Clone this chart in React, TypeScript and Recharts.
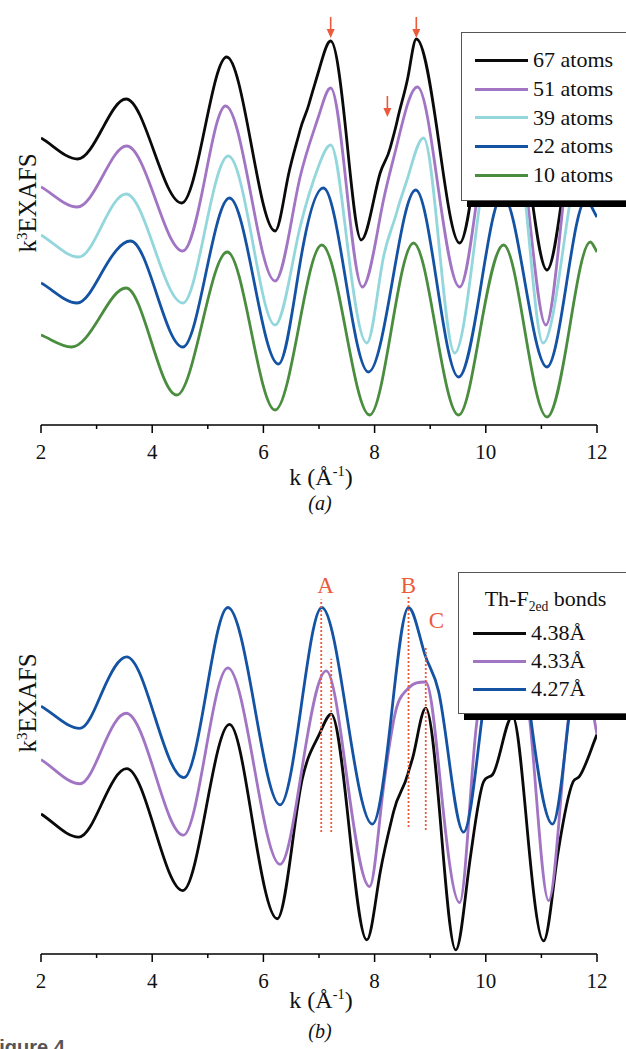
import React from "react"
import { LineChart, Line, XAxis, YAxis, Legend, ReferenceLine, ReferenceDot } from "recharts"

const FONT = '"Liberation Serif", "Times New Roman", serif'
const RED = "#ec5a3c"
const AXIS = { stroke: "#000", strokeWidth: 1.5 }

const K_TICKS = [2, 3, 4, 5, 6, 7, 8, 9, 10, 11, 12]

// (a) cluster size, k values and offset signal (arb. units)
const k67 = [2.0, 2.66, 3.1, 3.53, 4.03, 4.53, 4.94, 5.34, 5.78, 6.21, 6.45, 6.66, 6.82, 7.0, 7.21, 7.5, 7.76, 8.1, 8.28, 8.41, 8.6, 8.75, 9.15, 9.53, 9.9, 10.3, 10.7, 11.1, 11.45, 11.8, 12.0]
const v67 = [287, 266, 296, 326, 274, 222, 295, 368, 281, 194, 250, 295, 321, 355, 384, 285, 185, 252, 277, 305, 348, 386, 285, 182, 290, 360, 280, 155, 260, 340, 320]
const k51 = [2.0, 2.65, 3.1, 3.54, 4.05, 4.55, 4.95, 5.32, 5.77, 6.21, 6.66, 7.0, 7.21, 7.5, 7.78, 8.16, 8.41, 8.77, 9.15, 9.53, 9.9, 10.3, 10.7, 11.08, 11.45, 11.85, 12.0]
const v51 = [238, 218, 248, 279, 227, 174, 247, 319, 232, 144, 248, 310, 337, 235, 138, 225, 282, 338, 235, 138, 250, 330, 250, 100, 250, 320, 300]
const k39 = [2.0, 2.68, 3.1, 3.53, 4.05, 4.55, 4.95, 5.37, 5.8, 6.21, 6.66, 7.0, 7.21, 7.5, 7.86, 8.16, 8.41, 8.6, 8.88, 9.15, 9.44, 9.9, 10.3, 10.7, 11.03, 11.5, 11.85, 12.0]
const v39 = [190, 168, 200, 231, 175, 122, 195, 269, 185, 100, 198, 260, 280, 185, 82, 168, 215, 248, 287, 185, 72, 225, 310, 230, 82, 218, 290, 275]
const k22 = [2.0, 2.65, 3.1, 3.61, 4.08, 4.55, 4.97, 5.39, 5.83, 6.27, 6.66, 7.08, 7.48, 7.89, 8.32, 8.74, 9.12, 9.51, 9.9, 10.3, 10.7, 11.1, 11.45, 11.8, 12.0]
const v22 = [142, 122, 153, 184, 131, 78, 153, 227, 144, 61, 162, 237, 145, 53, 144, 235, 142, 48, 135, 230, 144, 58, 141, 225, 208]
const k10 = [2.0, 2.55, 3.05, 3.53, 3.98, 4.44, 4.9, 5.35, 5.78, 6.21, 6.66, 7.05, 7.48, 7.91, 8.3, 8.7, 9.1, 9.51, 9.9, 10.32, 10.7, 11.1, 11.5, 11.88, 12.0]
const v10 = [90, 78, 107, 137, 84, 30, 102, 173, 94, 15, 105, 180, 95, 10, 95, 182, 96, 10, 95, 180, 95, 8, 95, 183, 173]

// (b) Th-F2ed bond length
const k438 = [2.0, 2.68, 3.1, 3.54, 4.05, 4.55, 4.97, 5.39, 5.8, 6.25, 6.7, 7.03, 7.22, 7.55, 7.86, 8.1, 8.34, 8.6, 8.7, 8.92, 9.2, 9.46, 9.72, 9.96, 10.12, 10.48, 10.75, 11.04, 11.3, 11.57, 11.68, 12.0]
const v438 = [139, 116, 150, 184, 123, 63, 145, 228, 133, 35, 174, 221, 238, 121, 14, 81, 141, 179, 198, 244, 121, 4, 95, 171, 178, 236, 121, 13, 101, 171, 176, 218]
const k433 = [2.0, 2.7, 3.1, 3.53, 4.05, 4.56, 4.96, 5.36, 5.83, 6.3, 6.7, 7.13, 7.5, 7.91, 8.15, 8.34, 8.59, 8.92, 9.2, 9.53, 9.86, 10.45, 10.78, 11.13, 11.5, 11.8, 12.0]
const v433 = [193, 169, 204, 239, 179, 118, 201, 284, 187, 89, 186, 281, 176, 67, 161, 231, 263, 270, 161, 51, 238, 290, 238, 53, 238, 270, 218]
const k427 = [2.0, 2.7, 3.1, 3.54, 4.05, 4.57, 4.97, 5.36, 5.84, 6.3, 6.68, 7.05, 7.5, 7.96, 8.3, 8.61, 8.9, 9.15, 9.6, 9.94, 10.45, 10.8, 11.2, 11.5, 11.9, 12.0]
const v427 = [246, 224, 260, 295, 235, 175, 259, 344, 246, 148, 246, 344, 237, 129, 236, 344, 298, 261, 121, 238, 344, 238, 129, 238, 344, 340]

// markers
const arrowK = [7.21, 8.75, 8.23]
const arrowV = [387, 387, 308]
const dropK = [7.04, 7.22, 8.61, 8.92]
const dropTop = [352, 293, 356, 304]
const dropBottom = [121, 121, 126, 123]
const peakNames = ["A", "B", "C"]
const peakK = [7.12, 8.61, 9.11]
const peakV = [366, 366, 331]

const zip = (ks: number[], vs: number[]) => ks.map((k, i) => ({ k, v: vs[i] }))

const topSeries = [
  { name: "67 atoms", color: "#0a0a0a", data: zip(k67, v67) },
  { name: "51 atoms", color: "#a274c4", data: zip(k51, v51) },
  { name: "39 atoms", color: "#93d7dd", data: zip(k39, v39) },
  { name: "22 atoms", color: "#1452a3", data: zip(k22, v22) },
  { name: "10 atoms", color: "#4b8d3f", data: zip(k10, v10) },
]
const bottomSeries = [
  { name: "4.38Å", color: "#0a0a0a", data: zip(k438, v438) },
  { name: "4.33Å", color: "#a274c4", data: zip(k433, v433) },
  { name: "4.27Å", color: "#1452a3", data: zip(k427, v427) },
]

// smooth Hermite curve: flat at turning points, rounder (sine-like) in between, never overshoots
const smoothCurve = (ctx: any) => {
  let xs: number[] = []
  let ys: number[] = []
  return {
    areaStart() {},
    areaEnd() {},
    lineStart() {
      xs = []
      ys = []
    },
    point(x: number, y: number) {
      xs.push(+x)
      ys.push(+y)
    },
    lineEnd() {
      const n = xs.length
      if (!n) return
      ctx.moveTo(xs[0], ys[0])
      if (n === 1) return
      const h: number[] = []
      const sec: number[] = []
      for (let i = 0; i < n - 1; i++) {
        h[i] = xs[i + 1] - xs[i]
        sec[i] = (ys[i + 1] - ys[i]) / h[i]
      }
      const isTurn = (j: number) => j === 0 || j === n - 1 || sec[j - 1] * sec[j] <= 0
      const m: number[] = new Array(n).fill(0)
      m[0] = sec[0]
      m[n - 1] = sec[n - 2]
      for (let i = 1; i < n - 1; i++) {
        if (sec[i - 1] * sec[i] <= 0) continue
        const avg = (sec[i - 1] * h[i] + sec[i] * h[i - 1]) / (h[i - 1] + h[i])
        m[i] = avg * (isTurn(i - 1) && isTurn(i + 1) ? 1.5 : 1.15)
      }
      for (let i = 0; i < n - 1; i++) {
        if (sec[i] === 0) continue
        const a = m[i] / sec[i]
        const b = m[i + 1] / sec[i]
        const s = a * a + b * b
        if (s > 9) {
          const t = 3 / Math.sqrt(s)
          m[i] = t * a * sec[i]
          m[i + 1] = t * b * sec[i]
        }
      }
      for (let i = 0; i < n - 1; i++) {
        const d = h[i] / 3
        ctx.bezierCurveTo(xs[i] + d, ys[i] + m[i] * d, xs[i + 1] - d, ys[i + 1] - m[i + 1] * d, xs[i + 1], ys[i + 1])
      }
    },
  }
}

const KTick = (props: any) => {
  const { x, y, payload } = props
  const major = payload.value % 2 === 0
  return (
    <g>
      <line x1={x} y1={y} x2={x} y2={y + (major ? 8 : 4)} stroke="#000" strokeWidth={1.5} />
      {major && (
        <text x={x} y={y + 27} textAnchor="middle" dominantBaseline="central" fontFamily={FONT} fontSize={21} fill="#111">
          {payload.value}
        </text>
      )}
    </g>
  )
}

const Arrow = (props: any) => {
  const { cx, cy } = props
  return (
    <g>
      <line x1={cx} y1={cy - 21} x2={cx} y2={cy - 7} stroke={RED} strokeWidth={1.6} />
      <polygon points={`${cx - 4},${cy - 9} ${cx + 4},${cy - 9} ${cx},${cy}`} fill={RED} />
    </g>
  )
}

const Sup = ({ children }: any) => (
  <span style={{ fontSize: "0.6em", position: "relative", top: "-0.6em" }}>{children}</span>
)

const LegendRows = ({ payload, title, order }: any) => {
  const rows = [...(payload || [])].sort((a: any, b: any) => order.indexOf(a.value) - order.indexOf(b.value))
  return (
    <div style={{ fontFamily: FONT, fontSize: 22, color: "#111" }}>
      {title && (
        <div style={{ height: 40, marginTop: 6, display: "flex", alignItems: "center", justifyContent: "center" }}>{title}</div>
      )}
      <div style={{ paddingTop: title ? 0 : 13, paddingLeft: title ? 14 : 13 }}>
        {rows.map((p: any) => (
          <div key={p.value} style={{ height: title ? 28 : 28.7, display: "flex", alignItems: "center" }}>
            <span style={{ width: 53, height: 3, background: p.color, display: "inline-block" }} />
            <span style={{ marginLeft: 5, lineHeight: 1 }}>{p.value}</span>
          </div>
        ))}
      </div>
    </div>
  )
}

const boxStyle = {
  background: "#fff",
  border: "1px solid #555",
  boxShadow: "6px 6px 0 #000",
  boxSizing: "border-box" as const,
}

const Centered = ({ x, y, children, style }: any) => (
  <div
    style={{
      position: "absolute",
      left: x,
      top: y,
      transform: "translate(-50%, -50%)",
      whiteSpace: "nowrap",
      lineHeight: 1,
      fontFamily: FONT,
      color: "#111",
      ...style,
    }}
  >
    {children}
  </div>
)

function Panel({ series, yMax, top, legend, extras }: any) {
  return (
    <LineChart width={626} height={520} margin={{ top, right: 29, bottom: 95 - 30 - (top - 13), left: 41 }}>
      <XAxis
        dataKey="k"
        type="number"
        domain={[2, 12]}
        ticks={K_TICKS}
        interval={0}
        tickSize={0}
        tickMargin={0}
        tickLine={false}
        tick={(p: any) => <KTick {...p} />}
        axisLine={AXIS}
        height={30}
        allowDataOverflow
      />
      <XAxis xAxisId="top" orientation="top" type="number" domain={[2, 12]} tick={false} tickLine={false} axisLine={AXIS} height={0} />
      <YAxis type="number" domain={[0, yMax]} tick={false} tickLine={false} axisLine={AXIS} width={0} allowDataOverflow />
      <YAxis yAxisId="right" orientation="right" type="number" domain={[0, 1]} tick={false} tickLine={false} axisLine={AXIS} width={0} />
      {series.map((s: any) => (
        <Line
          key={s.name}
          data={s.data}
          dataKey="v"
          name={s.name}
          type={smoothCurve as any}
          stroke={s.color}
          strokeWidth={2.8}
          dot={false}
          activeDot={false}
          isAnimationActive={false}
        />
      ))}
      {extras}
      {legend}
    </LineChart>
  )
}

export default function App() {
  const topOrder = topSeries.map((s) => s.name)
  const bottomOrder = bottomSeries.map((s) => s.name)
  const topLegend = (
    <Legend
      layout="horizontal"
      align="center"
      verticalAlign="middle"
      wrapperStyle={{ ...boxStyle, left: 461, top: 32, width: 170, height: 169 }}
      content={(p: any) => <LegendRows payload={p.payload} order={topOrder} />}
    />
  )
  const bottomLegend = (
    <Legend
      layout="horizontal"
      align="center"
      verticalAlign="middle"
      wrapperStyle={{ ...boxStyle, left: 458, top: 52, width: 175, height: 142 }}
      content={(p: any) => (
        <LegendRows
          payload={p.payload}
          order={bottomOrder}
          title={
            <span>
              Th-F
              <span style={{ fontSize: "0.62em", position: "relative", top: "0.35em" }}>2ed</span> bonds
            </span>
          }
        />
      )}
    />
  )

  const topExtras = arrowK.map((k, i) => (
    <ReferenceDot key={`arrow-${i}`} x={k} y={arrowV[i]} r={0} shape={(p: any) => <Arrow {...p} />} />
  ))
  const bottomExtras = [
    ...dropK.map((k, i) => (
      <ReferenceLine
        key={`drop-${i}`}
        segment={[
          { x: k, y: dropBottom[i] },
          { x: k, y: dropTop[i] },
        ]}
        stroke={RED}
        strokeWidth={1.8}
        strokeDasharray="2 2"
      />
    )),
    ...peakNames.map((n, i) => (
      <ReferenceDot
        key={`peak-${n}`}
        x={peakK[i]}
        y={peakV[i]}
        r={0}
        shape={(p: any) => (
          <text x={p.cx} y={p.cy} textAnchor="middle" dominantBaseline="central" fontFamily={FONT} fontSize={23} fill={RED}>
            {n}
          </text>
        )}
      />
    )),
  ]

  return (
    <div style={{ position: "absolute", left: 0, top: 0, width: 626, height: 1049, overflow: "hidden", background: "#fff" }}>
      <div style={{ position: "absolute", left: 0, top: 0 }}>
        <Panel series={topSeries} yMax={412} top={13} legend={topLegend} extras={topExtras} />
      </div>
      <div style={{ position: "absolute", left: 0, top: 520 }}>
        <Panel series={bottomSeries} yMax={409} top={22} legend={bottomLegend} extras={bottomExtras} />
      </div>

      <Centered x={27} y={203} style={{ fontSize: 25, transform: "translate(-50%, -50%) rotate(-90deg)" }}>
        k<Sup>3</Sup>EXAFS
      </Centered>
      <Centered x={27} y={703} style={{ fontSize: 25, transform: "translate(-50%, -50%) rotate(-90deg)" }}>
        k<Sup>3</Sup>EXAFS
      </Centered>

      <Centered x={321} y={477} style={{ fontSize: 24 }}>
        k (Å<Sup>-1</Sup>)
      </Centered>
      <Centered x={320} y={503} style={{ fontSize: 20, fontStyle: "italic" }}>
        (a)
      </Centered>
      <Centered x={321} y={1000} style={{ fontSize: 24 }}>
        k (Å<Sup>-1</Sup>)
      </Centered>
      <Centered x={320} y={1031} style={{ fontSize: 20, fontStyle: "italic" }}>
        (b)
      </Centered>

      <div
        style={{
          position: "absolute",
          left: -13,
          top: 1037,
          fontFamily: '"Liberation Sans", Arial, sans-serif',
          fontWeight: 700,
          fontSize: 20,
          lineHeight: "20px",
          color: "#555",
          whiteSpace: "nowrap",
        }}
      >
        Figure 4
      </div>
    </div>
  )
}
